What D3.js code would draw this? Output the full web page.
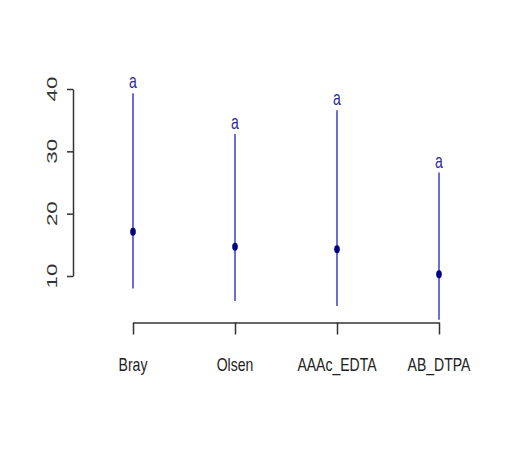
<!DOCTYPE html>
<html>
<head>
<meta charset="utf-8">
<script src="https://cdn.jsdelivr.net/npm/d3@7"></script>
<style>
  html, body { margin: 0; padding: 0; background: #ffffff; }
  svg { display: block; }
  text { font-family: "Liberation Sans", Arial, sans-serif; }
</style>
</head>
<body>
<svg id="chart" width="529" height="476"></svg>
<script>
const categories = ["Bray", "Olsen", "AAAc_EDTA", "AB_DTPA"];
const means = [17.1, 14.7, 14.3, 10.3];
const lower = [8.0, 6.0, 5.2, 3.0];
const upper = [39.3, 32.8, 36.6, 26.6];
const letters = ["a", "a", "a", "a"];
const yTicks = [10, 20, 30, 40];

const svg = d3.select("#chart");
svg.append("rect").attr("width", 529).attr("height", 476).attr("fill", "#ffffff");

const x = d3.scalePoint().domain(categories).range([133, 439]);
const y = d3.scaleLinear().domain([10, 40]).range([276, 89]);

// Y axis
const yAxis = svg.append("g")
  .attr("transform", "translate(73,0)")
  .call(d3.axisLeft(y).tickValues(yTicks).tickSize(6).tickSizeOuter(0).tickFormat(""));
yAxis.selectAll("path, line").attr("stroke", "#333").attr("stroke-width", 1.5);

svg.append("g").selectAll("text")
  .data(yTicks).join("text")
  .attr("transform", d => `translate(57,${y(d)}) rotate(-90) scale(1.6,1)`)
  .attr("text-anchor", "middle")
  .attr("font-size", 14)
  .attr("fill", "#333")
  .text(d => d);

// X axis
const xAxis = svg.append("g")
  .attr("transform", "translate(0,322.5)")
  .call(d3.axisBottom(x).tickSize(12).tickSizeOuter(0).tickFormat(""));
xAxis.selectAll("path, line").attr("stroke", "#333").attr("stroke-width", 1.5);

svg.append("g").selectAll("text")
  .data(categories).join("text")
  .attr("transform", d => `translate(${x(d)},371) scale(0.78,1)`)
  .attr("text-anchor", "middle")
  .attr("font-size", 18)
  .attr("fill", "#222")
  .text(d => d);

// Error bars
const idx = d3.range(categories.length);
svg.append("g").selectAll("line")
  .data(idx).join("line")
  .attr("x1", i => x(categories[i]))
  .attr("x2", i => x(categories[i]))
  .attr("y1", i => y(lower[i]))
  .attr("y2", i => y(upper[i]))
  .attr("stroke", "#3c3cc4")
  .attr("stroke-width", 1.5);

// Mean points
svg.append("g").selectAll("ellipse")
  .data(idx).join("ellipse")
  .attr("cx", i => x(categories[i]))
  .attr("cy", i => y(means[i]))
  .attr("rx", 2.8)
  .attr("ry", 4)
  .attr("fill", "#000080");

// Letters
svg.append("g").selectAll("text")
  .data(idx).join("text")
  .attr("transform", i => `translate(${x(categories[i])},${y(upper[i]) - 5}) scale(1,1.4)`)
  .attr("text-anchor", "middle")
  .attr("font-size", 14)
  .attr("fill", "#2a2aa0")
  .text(i => letters[i]);
</script>
</body>
</html>
